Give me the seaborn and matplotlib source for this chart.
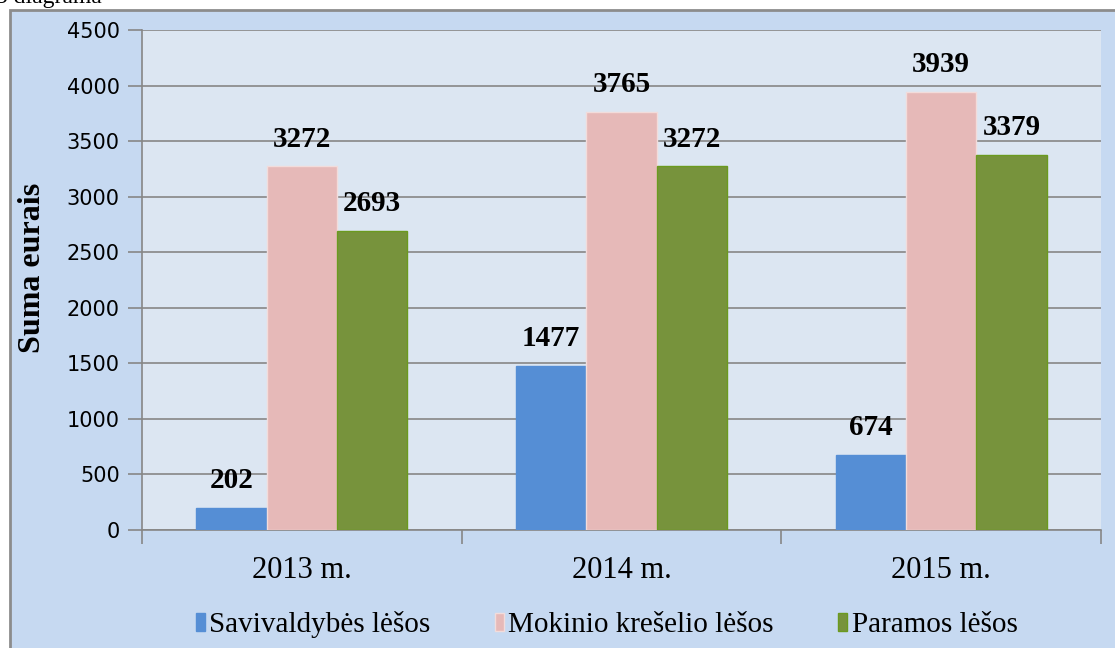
import pandas as pd
import matplotlib.pyplot as plt
import matplotlib.patches as mpatches
import seaborn as sns

# ─── Data ─────────────────────────────────────────────────────────────────────
years = ['2013 m.', '2014 m.', '2015 m.']
series = ['Savivaldybės lėšos', 'Mokinio krešelio lėšos', 'Paramos lėšos']
savivaldybes = [202, 1477, 674]
mokinio = [3272, 3765, 3939]
paramos = [2693, 3272, 3379]
y_ticks = [0, 500, 1000, 1500, 2000, 2500, 3000, 3500, 4000, 4500]

df = pd.DataFrame({
    'year': years * 3,
    'series': [series[0]] * 3 + [series[1]] * 3 + [series[2]] * 3,
    'value': savivaldybes + mokinio + paramos,
})

colors = ['#558ED5', '#E6B9B8', '#77933C']
edges = ['#558ED5', '#F2DCDB', '#6B9A1F']
serif = 'Liberation Serif'

# ─── Figure ───────────────────────────────────────────────────────────────────
sns.set_style('white')
fig = plt.figure(figsize=(11.15, 6.48), dpi=100)
fig.patch.set_facecolor('white')

# chart area background with grey border
fig.patches.append(mpatches.Rectangle((10 / 1115, -0.01), 1.1, 1.01 - 10 / 648,
                                      transform=fig.transFigure, facecolor='#C6D9F1',
                                      edgecolor='#8C8C8C', linewidth=2, zorder=-5))
fig.text(-0.004, 1.004, '3 diagrama', family=serif, fontsize=17,
         ha='left', va='center', color='black')

ax = fig.add_axes([142 / 1115, 118 / 648, 959 / 1115, 500 / 648])
ax.set_facecolor('#DCE6F2')

sns.barplot(data=df, x='year', y='value', hue='series', hue_order=series,
            order=years, palette=colors, width=0.66, gap=0, ax=ax,
            errorbar=None, saturation=1, zorder=3)

for cont, ec in zip(ax.containers, edges):
    for bar in cont:
        bar.set_edgecolor(ec)
        bar.set_linewidth(1)
    ax.bar_label(cont, padding=10, fontsize=21, fontweight='bold',
                 family=serif, color='black')

ax.set_ylim(0, 4500)
ax.set_xlim(-0.5, 2.5)
ax.set_yticks(y_ticks)
ax.set_yticklabels([str(t) for t in y_ticks], fontsize=15, family='DejaVu Sans',
                   color='black')
ax.yaxis.grid(True, color='#878787', linewidth=1.2, zorder=0)
ax.set_axisbelow(True)
ax.tick_params(axis='y', length=10, color='#878787', width=1.2, pad=6, left=True)

ax.set_xticks([0, 1, 2])
ax.set_xticklabels(years, fontsize=22, family=serif, color='black')
ax.set_xticks([-0.5, 0.5, 1.5, 2.5], minor=True)
ax.tick_params(axis='x', which='major', length=0, pad=19)
ax.tick_params(axis='x', which='minor', length=10, color='#878787', width=1.2,
               bottom=True)

ax.set_xlabel('')
ax.set_ylabel('Suma eurais', fontsize=23, fontweight='bold', family=serif,
              color='black')
ax.yaxis.set_label_coords(-95 / 959, (530 - 268) / 500)

for side in ['top', 'right']:
    ax.spines[side].set_visible(False)
for side in ['left', 'bottom']:
    ax.spines[side].set_color('#878787')
    ax.spines[side].set_linewidth(1.2)

handles, labels = ax.get_legend_handles_labels()
ax.get_legend().remove()
for h, ec in zip(handles, edges):
    h.set_edgecolor(ec)
leg = fig.legend(handles, labels, loc='center', bbox_to_anchor=(0.544, 0.036), ncol=3,
                 frameon=False, prop={'family': serif, 'size': 21},
                 handlelength=0.32, handleheight=0.6, handletextpad=0.15,
                 columnspacing=2.2)
for t in leg.get_texts():
    t.set_color('black')

fig.savefig('out.png', dpi=100)
